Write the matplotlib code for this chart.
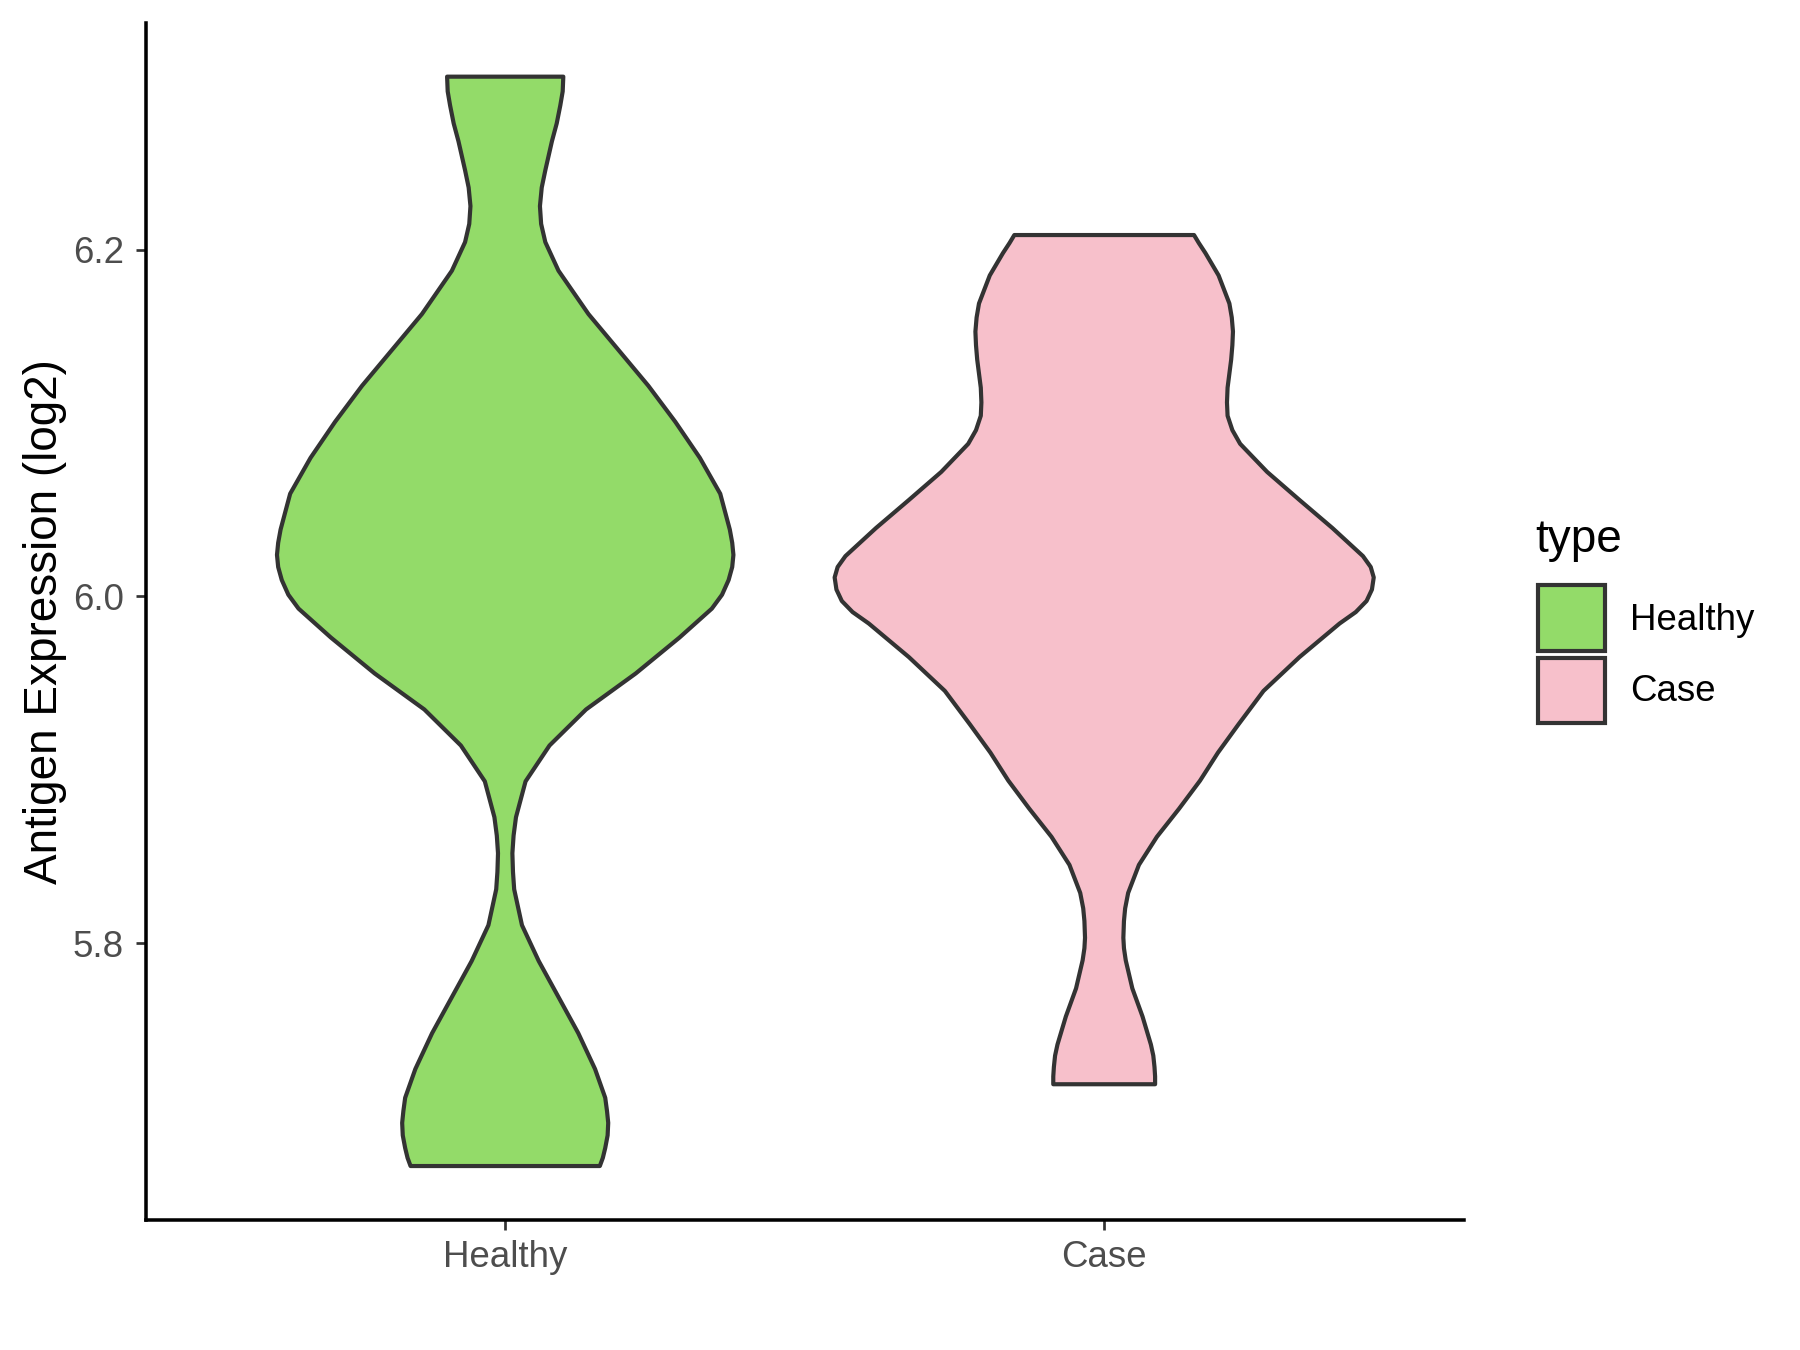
import numpy as np
import matplotlib
matplotlib.use("Agg")
import matplotlib.pyplot as plt
from matplotlib.patches import Rectangle

plt.rcParams['font.family'] = ['Liberation Sans', 'DejaVu Sans']

# violin outlines: expression level and half width
groups = ["Healthy", "Case"]
colors = ["#93DB69", "#F7C0CB"]

healthy_y = [6.300, 6.2915, 6.2834, 6.273, 6.2627, 6.246, 6.236, 6.2253, 6.215,
             6.2045, 6.188, 6.163, 6.1423, 6.1216, 6.1008, 6.080, 6.0593, 6.0386,
             6.031, 6.024, 6.017, 6.0095, 6.001, 5.993, 5.9763, 5.9556, 5.9348,
             5.914, 5.8933, 5.8726, 5.862, 5.8518, 5.841, 5.831, 5.8103, 5.7896,
             5.7688, 5.748, 5.7273, 5.7107, 5.703, 5.6962, 5.689, 5.6817, 5.676,
             5.6713]
healthy_w = [0.097, 0.096, 0.092, 0.086, 0.078, 0.067, 0.061, 0.058, 0.060,
             0.067, 0.089, 0.139, 0.189, 0.239, 0.284, 0.325, 0.359, 0.375,
             0.379, 0.381, 0.379, 0.373, 0.362, 0.345, 0.291, 0.218, 0.135,
             0.074, 0.034, 0.018, 0.014, 0.012, 0.013, 0.015, 0.028, 0.056,
             0.089, 0.122, 0.150, 0.167, 0.170, 0.172, 0.171, 0.167, 0.163,
             0.158]

case_y = [6.2086, 6.204, 6.1982, 6.1853, 6.1691, 6.161, 6.1529, 6.145, 6.1367,
          6.1205, 6.112, 6.1043, 6.096, 6.0881, 6.0719, 6.0557, 6.0395, 6.0233,
          6.017, 6.0110, 6.004, 5.9974, 5.991, 5.9844, 5.9650, 5.9455, 5.9261,
          5.9099, 5.8937, 5.8775, 5.8613, 5.8451, 5.8289, 5.820, 5.8127, 5.8030,
          5.797, 5.7900, 5.7738, 5.7576, 5.7414, 5.735, 5.7284, 5.723, 5.7185]
case_w = [0.150, 0.158, 0.169, 0.191, 0.209, 0.213, 0.215, 0.214, 0.212,
          0.206, 0.205, 0.206, 0.214, 0.227, 0.272, 0.326, 0.381, 0.432,
          0.445, 0.450, 0.447, 0.438, 0.420, 0.393, 0.326, 0.266, 0.224,
          0.190, 0.160, 0.125, 0.088, 0.058, 0.040, 0.035, 0.033, 0.032,
          0.033, 0.036, 0.047, 0.064, 0.078, 0.082, 0.084, 0.085, 0.085]

profiles = [(healthy_y, healthy_w), (case_y, case_w)]
yticks = [5.8, 6.0, 6.2]

fig = plt.figure(figsize=(12, 9), dpi=150)
ax = fig.add_axes([0.081, 0.0961, 0.7321, 0.8869])

for i, (ys, ws) in enumerate(profiles):
    pos = i + 1
    ys = np.array(ys)
    ws = np.array(ws)
    xs = np.concatenate([pos - ws, (pos + ws)[::-1]])
    yy = np.concatenate([ys, ys[::-1]])
    ax.fill(xs, yy, facecolor=colors[i], edgecolor="#333333", linewidth=2.0,
            joinstyle="round", zorder=2)

ax.set_xlim(0.4, 2.6)
ax.set_ylim(5.640, 6.331)
ax.set_xticks([1, 2])
ax.set_xticklabels(groups)
ax.set_yticks(yticks)
ax.set_yticklabels(["%.1f" % t for t in yticks])

for s in ["top", "right"]:
    ax.spines[s].set_visible(False)
for s in ["left", "bottom"]:
    ax.spines[s].set_linewidth(1.7)
    ax.spines[s].set_color("black")

ax.tick_params(axis="both", length=5, width=1.3, color="#333333",
               labelcolor="#4D4D4D", labelsize=17.6)
ax.tick_params(axis="x", pad=4.5)
ax.tick_params(axis="y", pad=5.5)
ax.set_ylabel("Antigen Expression (log2)", fontsize=22, color="black", labelpad=3)

# legend
fig.text(0.853, 0.600, "type", fontsize=22, ha="left", va="center")
key_y = [0.5178, 0.4644]
lab_y = [0.5407, 0.488]
for i, g in enumerate(groups):
    fig.patches.append(Rectangle((0.8546, key_y[i]), 0.0372, 0.0485,
                                 transform=fig.transFigure, facecolor=colors[i],
                                 edgecolor="#333333", linewidth=2.0))
    fig.text(0.9056, lab_y[i], g, fontsize=17.6, ha="left", va="center")

fig.savefig("out.png", dpi=150)
